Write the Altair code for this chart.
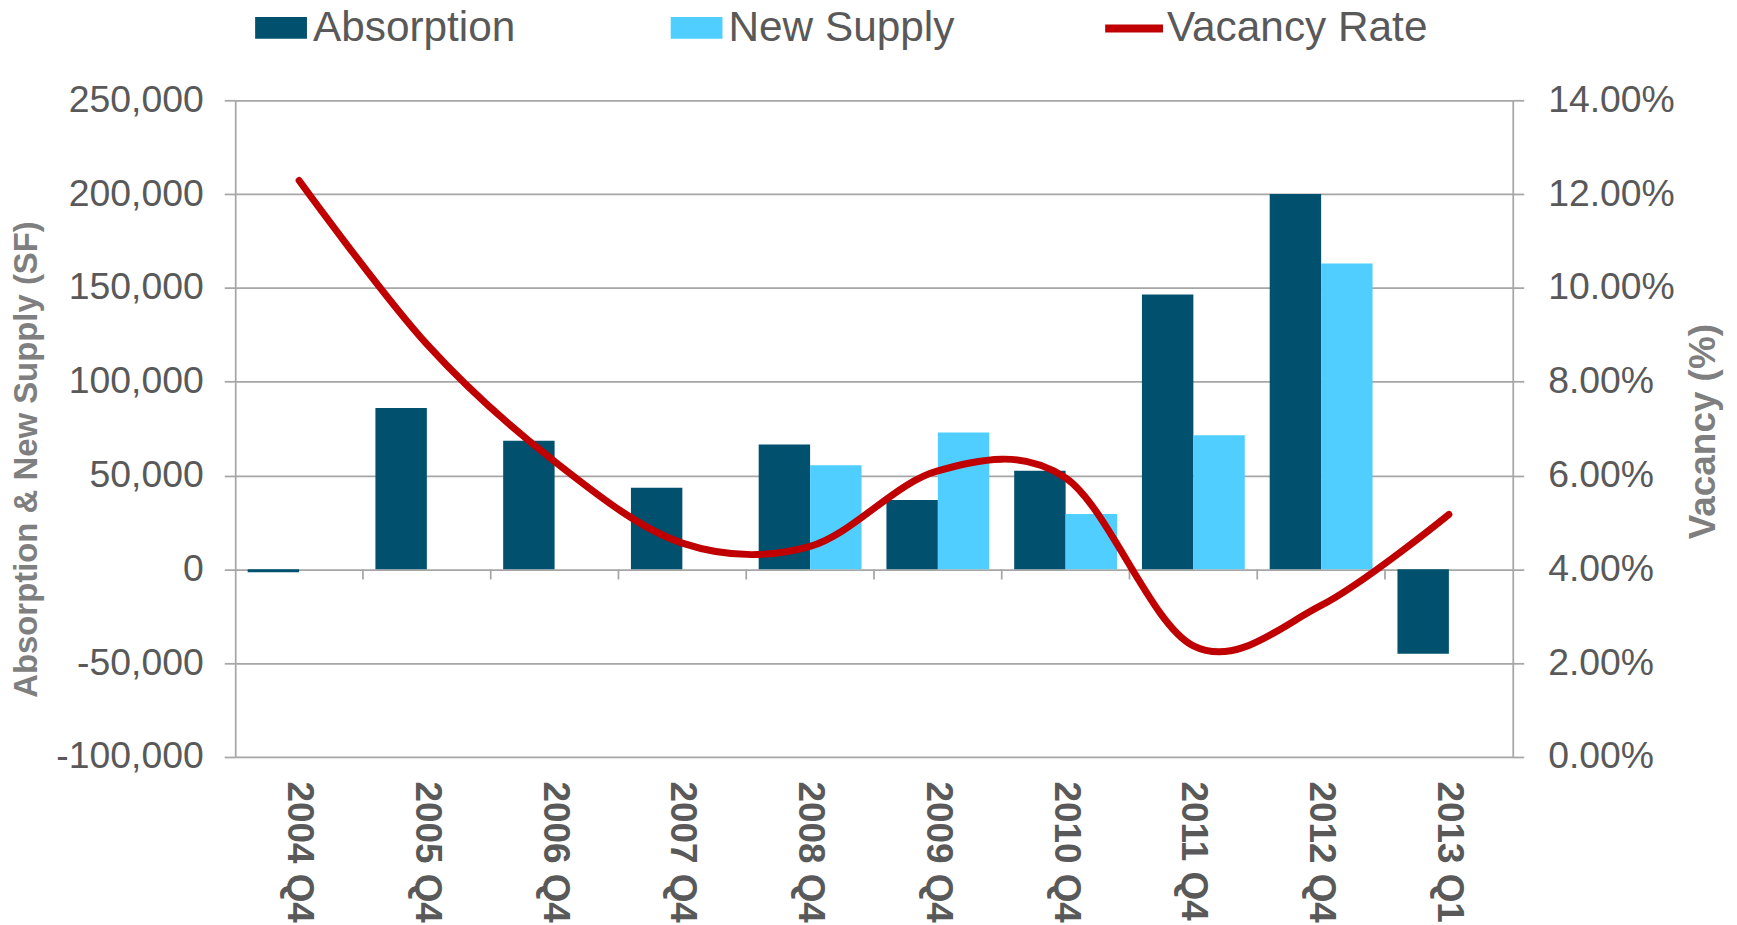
import altair as alt
import pandas as pd

categories = ["2004 Q4", "2005 Q4", "2006 Q4", "2007 Q4", "2008 Q4",
              "2009 Q4", "2010 Q4", "2011 Q4", "2012 Q4", "2013 Q1"]
absorption = [-1500, 86000, 68500, 43500, 66500, 37000, 52500, 146500, 200000, -45000]
new_supply = [None, None, None, None, 55500, 73000, 29500, 71500, 163000, None]
vacancy_rate = [0.1229, 0.088, 0.063, 0.0456, 0.0449, 0.061, 0.0595, 0.0237, 0.0323, 0.0517]

series_names = ["Absorption", "New Supply"]
series_colors = ["#00506E", "#50CEFF"]
line_name = "Vacancy Rate"
line_color = "#C00000"

left_ticks = [-100000, -50000, 0, 50000, 100000, 150000, 200000, 250000]
right_ticks = [0.0, 0.02, 0.04, 0.06, 0.08, 0.10, 0.12, 0.14]

FONT = "Liberation Sans"
GRID = "#a6a6a6"
TXT = "#595959"
TITLE = "#7f7f7f"

rows = []
for c, a, n in zip(categories, absorption, new_supply):
    if a is not None:
        rows.append({"cat": c, "series": "Absorption", "value": a})
    if n is not None:
        rows.append({"cat": c, "series": "New Supply", "value": n})
bars_df = pd.DataFrame(rows)
vac_df = pd.DataFrame({"cat": categories, "rate": vacancy_rate, "label": line_name})
ticks_df = pd.DataFrame({"cat": categories[1:]})

band = alt.Scale(domain=categories, paddingInner=0.195, paddingOuter=0.0975)

bars = alt.Chart(bars_df).mark_bar().encode(
    x=alt.X("cat:N", sort=categories, scale=band,
            axis=alt.Axis(title=None, labelAngle=90, labelAlign="left", labelBaseline="middle",
                          labelPadding=24, labelFont=FONT, labelFontWeight="bold", labelFontSize=37,
                          labelColor=TXT, ticks=False, domain=False, grid=False,
                          labelOverlap=False, labelFlush=False)),
    xOffset=alt.XOffset("series:N", sort=series_names,
                        scale=alt.Scale(domain=series_names, paddingInner=0, paddingOuter=0)),
    y=alt.Y("value:Q", scale=alt.Scale(domain=[-100000, 250000], nice=False, zero=False),
            axis=alt.Axis(values=left_ticks,
                          labelExpr="datum.value < 0 ? '-' + format(-datum.value, ',') : format(datum.value, ',')",
                          labelFont=FONT, labelFontSize=37.5, labelColor=TXT, labelPadding=21,
                          tickSize=11, tickColor=GRID, tickWidth=1.75,
                          domainColor=GRID, domainWidth=1.75, gridColor=GRID, gridWidth=1.75,
                          title="Absorption & New Supply (SF)", titleFont=FONT, titleFontWeight="bold",
                          titleFontSize=33, titleColor=TITLE, titleAngle=270, titleX=-199, titleY=360,
                          titleAlign="center", titleBaseline="alphabetic")),
    fill=alt.Fill("series:N", scale=alt.Scale(domain=series_names, range=series_colors),
                  legend=alt.Legend(title=None, orient="none", legendX=20, legendY=-99,
                                    direction="horizontal", symbolType="M-1,-0.42H1V0.42H-1Z",
                                    symbolSize=2704, symbolStrokeWidth=0, labelFont=FONT,
                                    labelFontSize=42.5, labelColor=TXT, labelOffset=6,
                                    columnPadding=155, labelLimit=500, padding=0)),
)

line = alt.Chart(vac_df).mark_line(interpolate="cardinal", strokeWidth=7, strokeCap="round").encode(
    x=alt.X("cat:N", sort=categories, scale=band, axis=None),
    y=alt.Y("rate:Q", scale=alt.Scale(domain=[0, 0.14], nice=False),
            axis=alt.Axis(orient="right", values=right_ticks, format=".2%", grid=False,
                          labelFont=FONT, labelFontSize=37.5, labelColor=TXT, labelPadding=24,
                          tickSize=11, tickColor=GRID, tickWidth=1.75,
                          domainColor=GRID, domainWidth=1.75,
                          title="Vacancy (%)", titleFont=FONT, titleFontWeight="bold",
                          titleFontSize=37, titleColor=TITLE, titleAngle=270, titleX=202, titleY=332,
                          titleAlign="center", titleBaseline="alphabetic")),
    stroke=alt.Stroke("label:N", scale=alt.Scale(domain=[line_name], range=[line_color]),
                      legend=alt.Legend(title=None, orient="none", legendX=869, legendY=-105,
                                        direction="horizontal", symbolType="stroke",
                                        symbolSize=3364, symbolStrokeWidth=8, labelFont=FONT,
                                        labelFontSize=42.5, labelColor=TXT, labelOffset=0,
                                        labelLimit=500, padding=0)),
)

ticks = alt.Chart(ticks_df).mark_rule(color=GRID, strokeWidth=1.75).encode(
    x=alt.X("cat:N", sort=categories, bandPosition=0,
            scale=alt.Scale(domain=categories, paddingInner=0, paddingOuter=0), axis=None),
    y=alt.YDatum(0, type="quantitative",
                 scale=alt.Scale(domain=[-100000, 250000], nice=False, zero=False), axis=None),
    y2=alt.Y2Datum(-5400),
)

chart = alt.layer(bars, ticks, line).resolve_scale(
    x="independent", y="independent"
).properties(
    width=1282, height=659,
    padding={"left": 228, "top": 91, "right": 217, "bottom": 168},
    autosize=alt.AutoSizeParams(type="none"),
).configure_view(stroke=None)

chart.save("out.html", embed_options={"renderer": "svg", "actions": False})
